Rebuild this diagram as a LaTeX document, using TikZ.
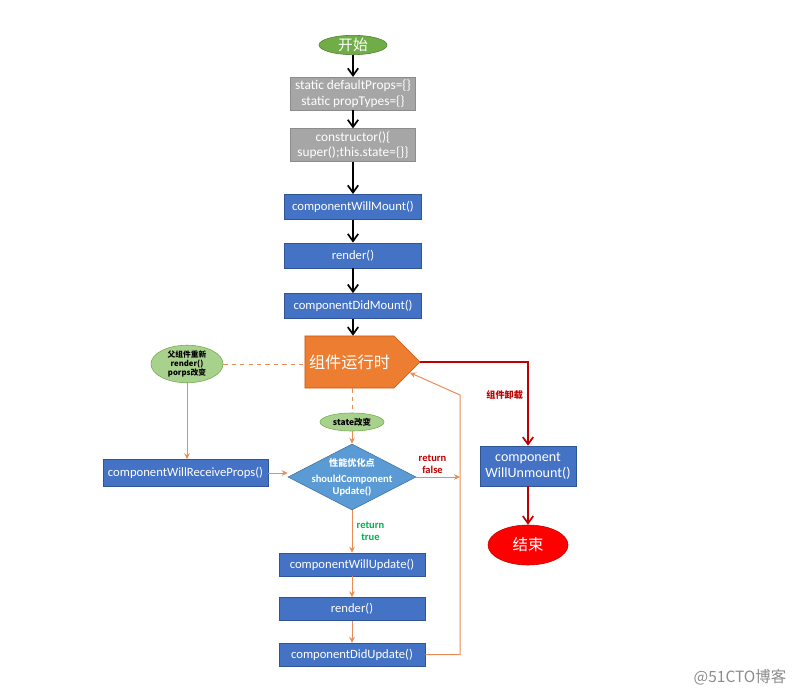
\documentclass[tikz,border=0pt]{standalone}
\usepackage{fontspec}
\setmainfont{Carlito}
\newfontfamily\cjk{Noto Sans CJK SC}
\usepackage{xcolor}
\usetikzlibrary{arrows.meta,positioning,calc,shapes.geometric,shapes.symbols}
\definecolor{boxblue}{HTML}{4472C4}
\definecolor{boxedge}{HTML}{2F5597}
\definecolor{boxgrey}{HTML}{A6A6A6}
\definecolor{greyedge}{HTML}{8C8C8C}
\definecolor{startgreen}{HTML}{70AD47}
\definecolor{startedge}{HTML}{507E32}
\definecolor{bubblegreen}{HTML}{A9D18E}
\definecolor{runorange}{HTML}{ED7D31}
\definecolor{runedge}{HTML}{C55A11}
\definecolor{diablue}{HTML}{5B9BD5}
\definecolor{diaedge}{HTML}{41719C}
\definecolor{lineorange}{HTML}{E88E55}
\definecolor{linered}{HTML}{C00000}
\definecolor{truegreen}{HTML}{00B050}
\begin{document}
\begin{tikzpicture}[x=0.025cm,y=-0.025cm,font=\fontsize{9}{10.5}\selectfont,
  bluebox/.style={draw=boxedge,fill=boxblue,text=white,minimum width=3.425cm,minimum height=0.625cm,inner sep=2pt,align=center},
  greybox/.style={draw=greyedge,fill=boxgrey,text=white,minimum width=3.125cm,inner sep=2pt,align=center,font=\fontsize{9.5}{11}\selectfont},
  bubble/.style={ellipse,draw=startgreen,fill=bubblegreen,inner sep=0pt,align=center,font=\cjk\bfseries\fontsize{5.5}{6.5}\selectfont},
  barr/.style={-{Straight Barb[length=1.8mm,width=2.6mm]},line width=1.2pt},
  oarr/.style={-{Stealth[length=1.5mm,width=1.4mm]},draw=lineorange,line width=0.7pt},
  oline/.style={draw=lineorange,line width=0.7pt,dashed},
  rarr/.style={-{Straight Barb[length=1.8mm,width=2.6mm]},draw=linered,line width=1.2pt},
  lab/.style={font=\bfseries\fontsize{7.5}{8.5}\selectfont,align=center,inner sep=1pt}]
\useasboundingbox[fill=white] (0,0) rectangle (800,695);
% mounting
\node[ellipse,draw=startedge,fill=startgreen,text=white,minimum width=1.7cm,minimum height=0.45cm,inner sep=0pt,font=\cjk\fontsize{10.5}{12}\selectfont] (start) at (353,45) {开始};
\node[greybox,minimum height=0.75cm,below=0.55cm of start] (props) {static defaultProps=\{\}\\static propTypes=\{\}};
\node[greybox,minimum height=0.825cm,below=0.45cm of props] (ctor) {constructor()\{\\super();this.state=\{\}\}};
\node[bluebox,below=0.8cm of ctor] (cwm) {componentWillMount()};
\node[bluebox,below=0.575cm of cwm] (rnd) {render()};
\node[bluebox,below=0.625cm of rnd] (cdm) {componentDidMount()};
\node[signal,signal to=east,signal pointer angle=90,draw=runedge,fill=runorange,text=white,minimum width=2.875cm,minimum height=1.3cm,inner sep=1pt,font=\cjk\fontsize{11.5}{13}\selectfont] (run) at (349.5,362) {组件运行时};
% updating
\node[bubble,minimum width=1.8cm,minimum height=0.9cm] (parent) at (187,364) {父组件重新\\render()\\porps改变};
\node[bluebox,minimum width=4.125cm,minimum height=0.675cm] (cwrp) at (185.5,473) {componentWillReceiveProps()};
\node[bubble,minimum width=1.6cm,minimum height=0.45cm,font=\cjk\bfseries\fontsize{6}{7}\selectfont] (state) at (352,422) {state改变};
\node[diamond,draw=diaedge,fill=diablue,minimum width=3.2cm,minimum height=1.65cm,inner sep=0pt,
  label={[text=white,align=center,font=\bfseries\fontsize{7.5}{8.5}\selectfont]center:{{\cjk\fontsize{6.5}{7}\selectfont 性能优化点}\\[3pt]shouldComponent\\Update()}}] (dia) at (352,477) {};
\node[bluebox,minimum width=3.65cm,minimum height=0.575cm] (cwu) at (352,564.5) {componentWillUpdate()};
\node[bluebox,minimum width=3.65cm,minimum height=0.575cm,below=0.525cm of cwu] (rnd2) {render()};
\node[bluebox,minimum width=3.65cm,minimum height=0.575cm,below=0.55cm of rnd2] (cdu) {componentDidUpdate()};
\coordinate (back) at (460,395);
% unmounting
\node[bluebox,minimum width=2.4cm,minimum height=1cm,font=\fontsize{10}{11.5}\selectfont] (cwun) at (528,466) {component\\WillUnmount()};
\node[ellipse,draw=linered,fill=red,text=white,minimum width=2cm,minimum height=1cm,inner sep=0pt,font=\cjk\fontsize{11}{13}\selectfont] (finish) at (528,545) {结束};
\node[text=black!45,font=\cjk\fontsize{11}{13}\selectfont] (mark) at (740,677) {@51CTO博客};
% connectors
\draw[barr] (start) -- (props);
\draw[barr] (props) -- (ctor);
\draw[barr] (ctor) -- (cwm);
\draw[barr] (cwm) -- (rnd);
\draw[barr] (rnd) -- (cdm);
\draw[barr] (cdm) -- (cdm |- run.north);
\draw[oline] (parent.east) -- (parent.east -| run.west);
\draw[oline] (state.north |- run.south) -- (state.north);
\draw[oarr] (parent.south) -- (parent.south |- cwrp.north);
\draw[oarr] (state) -- (dia);
\draw[oarr] (cwrp.east) -- (cwrp.east -| dia.west);
\draw[oarr] (dia.east) -- (dia.east -| back) node[midway,above=1pt,xshift=-4pt,lab,text=linered] {return\\false};
\draw[oarr] (dia) -- (cwu) node[midway,right=2pt,lab,text=truegreen] {return\\true};
\draw[oarr] (cwu) -- (rnd2);
\draw[oarr] (rnd2) -- (cdu);
\draw[oarr] (cdu.east) -| (back) -- (run.-10);
\draw[rarr] (run.east) -| (cwun.north) node[pos=0.7,left=2pt,lab,text=linered,font=\cjk\bfseries\fontsize{6.5}{7.5}\selectfont] {组件卸载};
\draw[rarr] (cwun) -- (finish);
\end{tikzpicture}
\end{document}
